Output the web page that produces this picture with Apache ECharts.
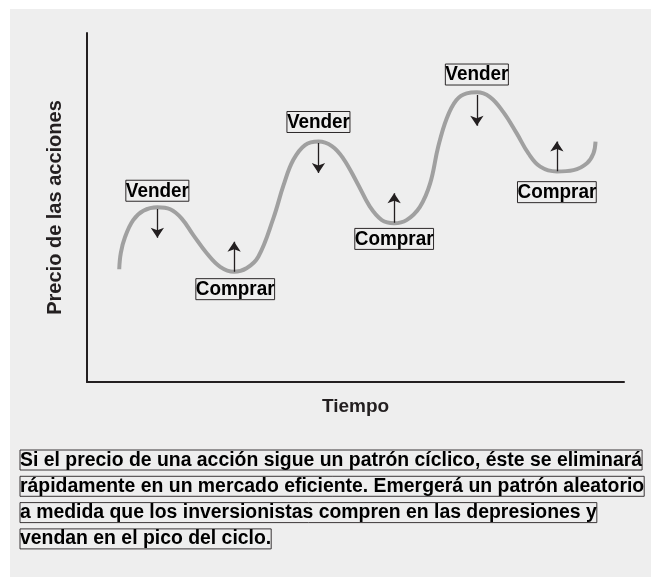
<!DOCTYPE html>
<html>
<head>
<meta charset="utf-8">
<script src="https://cdn.jsdelivr.net/npm/echarts@6/dist/echarts.min.js"></script>
<style>
html, body { margin: 0; padding: 0; background: #fff; }
#chart { width: 651px; height: 577px; }
</style>
</head>
<body>
<div id="chart"></div>
<script>
// precio de las acciones a lo largo del tiempo (ambos ejes en escala 0-100)
const tiempo = [6.0, 6.3, 7.1, 8.6, 10.5, 13.1, 15.5, 17.6, 19.8, 22.3, 24.8, 27.4, 29.7, 31.9,
    34.7, 36.6, 38.4, 40.6, 43.1, 45.6, 47.7, 50.2, 52.7, 54.9, 57.2, 59.5, 62.0,
    63.9, 65.4, 67.0, 68.8, 70.7, 72.6, 75.0, 77.5, 80.0, 82.2, 84.4, 87.5, 90.6, 93.1, 94.3, 94.7]
const precio = [32.3, 37.0, 41.6, 46.4, 49.1, 50.1, 49.5, 46.9, 42.1, 36.9, 33.0, 31.6, 32.6, 35.9,
    46.9, 56.4, 63.6, 67.9, 68.9, 67.6, 64.1, 57.4, 50.2, 46.4, 45.5, 46.4, 50.2,
    56.9, 67.4, 75.6, 80.8, 82.7, 83.0, 81.7, 77.4, 71.3, 65.5, 61.7, 60.3, 60.7, 62.7, 65.5, 68.9]

// flechas: vender baja desde el pico, comprar sube desde el valle
const ventaX = [13.1, 43.1, 72.6]
const ventaDesde = [49.6, 68.5, 82.2]
const ventaHasta = [41.3, 59.9, 73.4]
const compraX = [27.4, 57.2, 87.5]
const compraDesde = [31.6, 45.6, 60.4]
const compraHasta = [40.2, 54.1, 68.9]

// etiquetas sobre los picos y bajo los valles
const etiquetas = ['Vender', 'Vender', 'Vender', 'Comprar', 'Comprar', 'Comprar']
const etiquetaX = [13.1, 43.1, 72.6, 27.6, 57.2, 87.5]
const etiquetaY = [54.8, 74.5, 88.1, 26.6, 41.0, 54.4]

const nota = [
    'Si el precio de una acción sigue un patrón cíclico, éste se eliminará',
    'rápidamente en un mercado eficiente. Emergerá un patrón aleatorio',
    'a medida que los inversionistas compren en las depresiones y',
    'vendan en el pico del ciclo.'
]

// no hay fuente condensada instalada: se estrecha la Liberation Sans con scaleX
// y se engruesa con un borde del mismo color
const font = 'Liberation Sans'
const ink = '#231f20'

const flechas = []
ventaX.forEach((x, i) => flechas.push({ coords: [[x, ventaDesde[i]], [x, ventaHasta[i]]] }))
compraX.forEach((x, i) => flechas.push({ coords: [[x, compraDesde[i]], [x, compraHasta[i]]] }))

const graficos = [{
    type: 'rect',
    z: -10,
    shape: { x: 10, y: 9, width: 641, height: 568 },
    style: { fill: '#eeeeee' }
}]
nota.forEach((linea, i) => {
    graficos.push({
        type: 'text',
        x: 20,
        y: 450 + i * 26.3,
        scaleX: 0.97,
        style: {
            text: '{b|' + linea + '}',
            rich: {
                b: {
                    fontFamily: font, fontWeight: 'bold', fontSize: 20, color: ink,
                    textBorderColor: ink, textBorderWidth: 0.9
                }
            }
        }
    })
})

const option = {
    backgroundColor: '#fff',
    animation: false,
    graphic: graficos,
    grid: { left: 87, right: 27, top: 33, bottom: 195 },
    xAxis: {
        type: 'value',
        min: 0,
        max: 100,
        name: 'Tiempo',
        nameLocation: 'middle',
        nameGap: 15,
        nameTextStyle: { fontFamily: font, fontWeight: 'bold', fontSize: 19, color: ink, verticalAlign: 'top' },
        axisLine: { lineStyle: { color: ink, width: 2 } },
        axisTick: { show: false },
        axisLabel: { show: false },
        splitLine: { show: false }
    },
    yAxis: {
        type: 'value',
        min: 0,
        max: 100,
        name: 'Precio de las acciones',
        nameLocation: 'middle',
        nameGap: 22,
        nameTextStyle: { fontFamily: font, fontWeight: 'bold', fontSize: 20, color: ink },
        axisLine: { show: true, lineStyle: { color: ink, width: 2 } },
        axisTick: { show: false },
        axisLabel: { show: false },
        splitLine: { show: false }
    },
    series: [
        {
            name: 'Precio',
            type: 'line',
            data: tiempo.map((t, i) => [t, precio[i]]),
            smooth: 0.4,
            showSymbol: false,
            lineStyle: { color: '#a0a0a0', width: 4 }
        },
        {
            name: 'Flechas',
            type: 'lines',
            coordinateSystem: 'cartesian2d',
            data: flechas,
            symbol: ['none', 'arrow'],
            symbolSize: [6, 10],
            lineStyle: { color: ink, width: 1.3, opacity: 1 },
            z: 4
        },
        {
            name: 'Etiquetas',
            type: 'custom',
            data: etiquetas.map((n, i) => [etiquetaX[i], etiquetaY[i]]),
            z: 5,
            silent: true,
            renderItem: (params, api) => {
                const p = api.coord([api.value(0), api.value(1)])
                return {
                    type: 'text',
                    x: p[0],
                    y: p[1],
                    scaleX: 0.9,
                    style: {
                        text: '{b|' + etiquetas[params.dataIndex] + '}',
                        rich: {
                            b: {
                                fontFamily: font, fontWeight: 'bold', fontSize: 21, color: ink,
                                textBorderColor: ink, textBorderWidth: 1
                            }
                        },
                        align: 'center',
                        verticalAlign: 'middle'
                    }
                }
            }
        }
    ]
}

let chart = null
const dibujar = () => {
    if (chart) chart.dispose()
    chart = echarts.init(document.getElementById('chart'), null, { renderer: 'canvas' })
    chart.setOption(option)
}

dibujar()
// la negrita puede no estar lista en el primer trazo: se redibuja al cargarla
if (document.fonts && document.fonts.load) {
    document.fonts.load('bold 20px "Liberation Sans"').then(dibujar)
}
setTimeout(dibujar, 200)
</script>
</body>
</html>
